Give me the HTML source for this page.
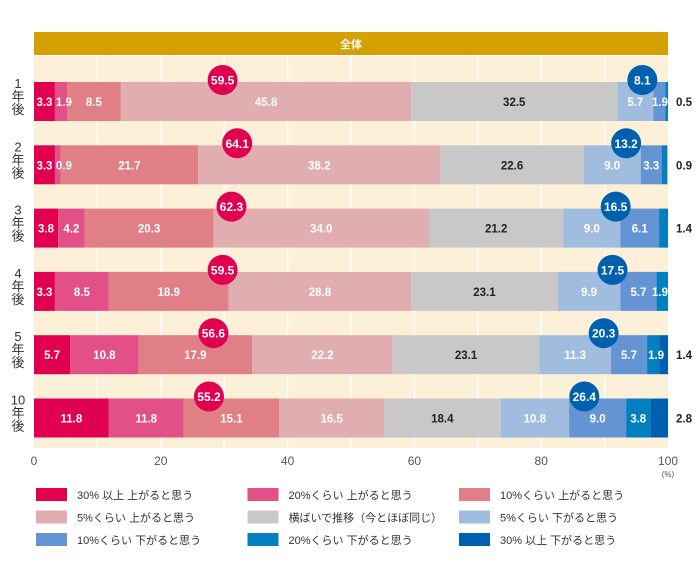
<!DOCTYPE html>
<html><head><meta charset="utf-8"><style>
body{margin:0;background:#fff;width:700px;height:580px;overflow:hidden}
svg{font-family:"Liberation Sans","Noto Sans CJK JP",sans-serif}
</style></head><body>
<svg id="chart" width="700" height="580" xmlns="http://www.w3.org/2000/svg"></svg>
<script>
const rowLabels=[["1","年","後"],["2","年","後"],["3","年","後"],["4","年","後"],["5","年","後"],["10","年","後"]];
const categories=["30% 以上 上がると思う","20%くらい 上がると思う","10%くらい 上がると思う","5%くらい 上がると思う","横ばいで推移（今とほぼ同じ）","5%くらい 下がると思う","10%くらい 下がると思う","20%くらい 下がると思う","30% 以上 下がると思う"];
const colors=["#e0004f","#e34f87","#e07f85","#e0aeb0","#c8c8c8","#a0bde0","#6494d4","#0080c0","#0060b0"];
const values=[
[3.3,1.9,8.5,45.8,32.5,5.7,1.9,0.5,0],
[3.3,0.9,21.7,38.2,22.6,9.0,3.3,0.9,0],
[3.8,4.2,20.3,34.0,21.2,9.0,6.1,1.4,0],
[3.3,8.5,18.9,28.8,23.1,9.9,5.7,1.9,0],
[5.7,10.8,17.9,22.2,23.1,11.3,5.7,1.9,1.4],
[11.8,11.8,15.1,16.5,18.4,10.8,9.0,3.8,2.8]];
const upTotals=[59.5,64.1,62.3,59.5,56.6,55.2];
const downTotals=[8.1,13.2,16.5,17.5,20.3,26.4];
const ticks=[0,20,40,60,80,100];
const NS="http://www.w3.org/2000/svg",svg=document.getElementById('chart');
const X0=34,X1=668,x=v=>X0+(X1-X0)*v/100;
const rowTop=i=>82+i*63.3,BH=39;
function el(t,a,p){const e=document.createElementNS(NS,t);for(const k in a)e.setAttribute(k,a[k]);(p||svg).appendChild(e);return e;}
let e=el('rect',{x:X0,y:56,width:X1-X0,height:392,fill:'#fcf0d9'});

for(let g=10;g<100;g+=10){e=el('line',{x1:x(g),x2:x(g),y1:56,y2:448,stroke:'#fff','stroke-width':1.5});
}
e=el('rect',{x:X0,y:32,width:X1-X0,height:23,fill:'#d4a100'});

e=el('text',{x:(X0+X1)/2,y:48,fill:'#fff','font-size':11,'font-weight':'bold','text-anchor':'middle'});e.textContent='全体';

values.forEach((row,i)=>{
 const y=rowTop(i);let cum=0;const labels=[];
 rowLabels[i].forEach((t,j)=>{e=el('text',{x:18,y:y+6+j*13,'font-size':13,fill:'#333','text-anchor':'middle'});e.textContent=t;
 });
 row.forEach((v,k)=>{
  if(v<=0)return;
  const xa=x(cum),xb=x(Math.min(cum+v,100));
  e=el('rect',{x:xa,y:y,width:Math.max(xb-xa,0),height:BH,fill:colors[k]});
  
  labels.push([v,k,xa,xb]);
  cum+=v;
 });
 labels.forEach(([v,k,xa,xb])=>{
  const outside=(v<1.6&&k>4)||k===8;
  let tx=(xa+xb)/2,anchor='middle';
  if(outside)tx=684;
  else if(v<3){tx=xa+1;anchor='start';if(tx+18>X1){tx=X1;anchor='end';}}
  e=el('text',{x:tx,y:y+BH/2+4.5,'font-size':11.5,'font-weight':'bold','text-anchor':anchor,fill:(k===4||outside)?'#222':'#fff'});
  e.textContent=v.toFixed(1);
  
 });
 [[upTotals[i]/2,upTotals[i],'#e0004f'],[100-downTotals[i]/2,downTotals[i],'#0060b0']].forEach(([c,t,col])=>{
  e=el('circle',{cx:x(c),cy:y-2,r:15,fill:col});
  
  e=el('text',{x:x(c),y:y+2.5,'font-size':12,'font-weight':'bold','text-anchor':'middle',fill:'#fff'});e.textContent=t.toFixed(1);
  
 });
});
ticks.forEach(t=>{e=el('text',{x:x(t),y:465,'font-size':12,fill:'#555','text-anchor':'middle'});e.textContent=t;
 });
e=el('text',{x:x(100),y:477,'font-size':8,fill:'#555','text-anchor':'middle'});e.textContent='(%)';

categories.forEach((c,k)=>{
 const col=k%3,r=Math.floor(k/3),bx=36+col*211.5,by=488+r*22.5;
 e=el('rect',{x:bx,y:by,width:31,height:13,fill:colors[k]});
 
 e=el('text',{x:bx+41,y:by+11,'font-size':11,fill:'#333'});e.textContent=c;
 
});
</script>
</body></html>
